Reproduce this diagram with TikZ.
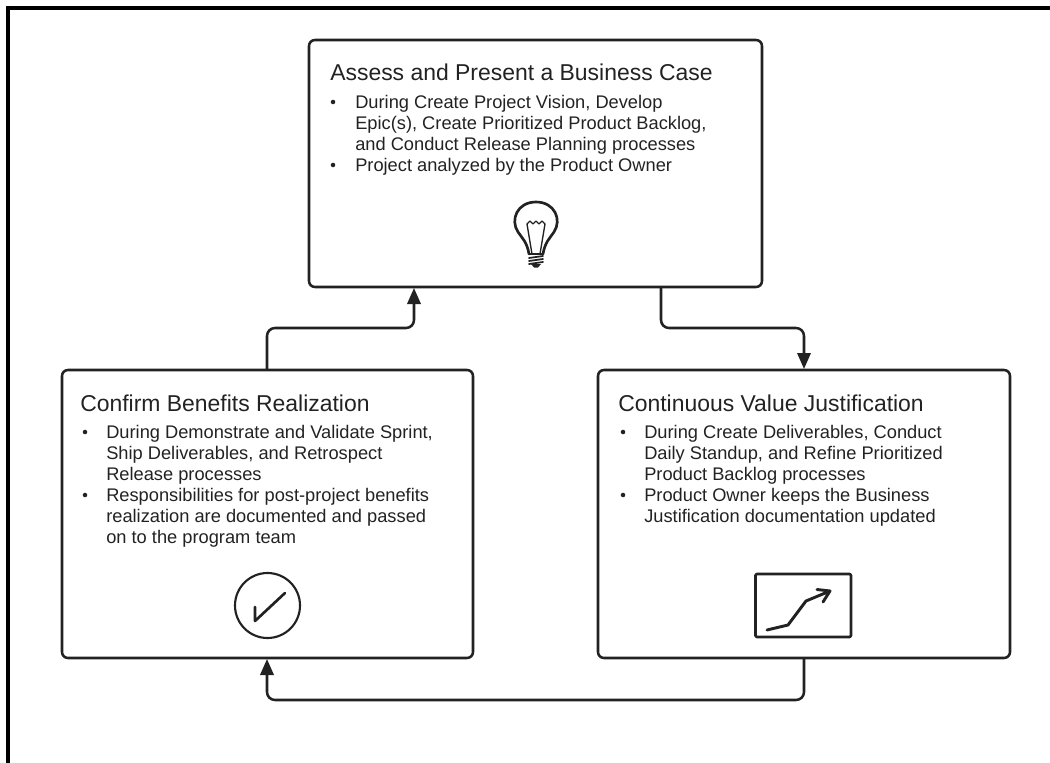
\documentclass[tikz,border=0pt]{standalone}
\usepackage{fontspec}
\setmainfont{Liberation Sans}
\usetikzlibrary{arrows.meta}
\definecolor{ink}{HTML}{222222}
\tikzset{
  x=0.75pt,y=-0.75pt,
  card/.style={draw=ink,line width=1.9pt,rounded corners=4.5pt},
  link/.style={draw=ink,line width=1.9pt,rounded corners=6pt,-{Triangle[length=12pt,width=10pt]}},
  title/.style={anchor=base west,inner sep=0pt,text=ink,font=\fontsize{17.2}{20}\selectfont},
  body/.style={anchor=north west,inner sep=0pt,align=left,text=ink,font=\fontsize{13.7}{15.9}\selectfont},
  bullet/.style={circle,fill=ink,inner sep=0pt,minimum size=3.4pt},
  icon/.style={draw=ink,line width=2pt,line cap=round,line join=round},
}
\begin{document}
\begin{tikzpicture}
\useasboundingbox (0,0) rectangle (1050,763);
\fill[black] (6,6) rectangle (1050,10);
\fill[black] (6,6) rectangle (10,763);
% boxes
\coordinate (t1) at (309,40); \coordinate (t2) at (762,287);
\coordinate (l1) at (62,370); \coordinate (l2) at (473,658);
\coordinate (r1) at (598,370); \coordinate (r2) at (1010,658);
\draw[card] (t1) rectangle (t2);
\draw[card] (l1) rectangle (l2);
\draw[card] (r1) rectangle (r2);
% connectors
\coordinate (a1) at (267,370); \coordinate (a2) at (414,288);
\coordinate (b1) at (661,287); \coordinate (b2) at (804,369);
\coordinate (c1) at (804,658); \coordinate (c2) at (267,659);
\draw[link] (a1) -- (267,328) -- (414,328) -- (a2);
\draw[link] (b1) -- (661,328) -- (804,328) -- (b2);
\draw[link] (c1) -- (804,700) -- (267,700) -- (c2);
% top text
\node[title] (ttitle) at (330,81) {Assess and Present a Business Case};
\node[bullet] (tb1) at (333,102) {};
\node[body] (tt1) at (355,94.5) {During Create Project Vision, Develop\\Epic(s), Create Prioritized Product Backlog,\\and Conduct Release Planning processes};
\node[bullet] (tb2) at (333,165) {};
\node[body] (tt2) at (355,158) {Project analyzed by the Product Owner};
% left text
\node[title] (ltitle) at (80,411) {Confirm Benefits Realization};
\node[bullet] (lb1) at (85,432) {};
\node[body] (lt1) at (106,424.5) {During Demonstrate and Validate Sprint,\\Ship Deliverables, and Retrospect\\Release processes};
\node[bullet] (lb2) at (85,495) {};
\node[body] (lt2) at (106,488) {Responsibilities for post-project benefits\\realization are documented and passed\\on to the program team};
% right text
\node[title] (rtitle) at (618,411) {Continuous Value Justification};
\node[bullet] (rb1) at (623,432) {};
\node[body] (rt1) at (644,424.5) {During Create Deliverables, Conduct\\Daily Standup, and Refine Prioritized\\Product Backlog processes};
\node[bullet] (rb2) at (623,495) {};
\node[body] (rt2) at (644,488) {Product Owner keeps the Business\\Justification documentation updated};
% bulb icon
\draw[icon] (529,254) .. controls (527,242) and (522,238) .. (518,232)
  .. controls (510,220) and (517,202) .. (536,202)
  .. controls (555,202) and (562,220) .. (554,232)
  .. controls (550,238) and (545,242) .. (543,254);
\draw[icon,line width=1pt] (532,254) -- (527,224) -- (530,221) -- (533,224) -- (536,221) -- (539,224) -- (542,221) -- (545,224) -- (540,254);
\draw[icon,line width=1.3pt] (529,254) -- (543,254) (529,258) -- (543,256) (529,261) -- (543,259) (529,264) -- (543,262);
\fill[ink] (531,264) -- (541,264) -- (538,267.5) -- (534,267.5) -- cycle;
% check icon
\draw[icon,line width=1.6pt] (267.5,605.5) circle (32.5);
\draw[icon] (255,621) -- (255,607) (255,621) -- (285,593);
% chart icon
\draw[icon,rounded corners=1pt,line width=2pt] (755.5,574) rectangle (851,637);
\draw[icon,line width=2.2pt] (767,630) -- (788,625) -- (806,601) -- (830,591) (817,589.5) -- (830,591) -- (823,602);
\end{tikzpicture}
\end{document}
